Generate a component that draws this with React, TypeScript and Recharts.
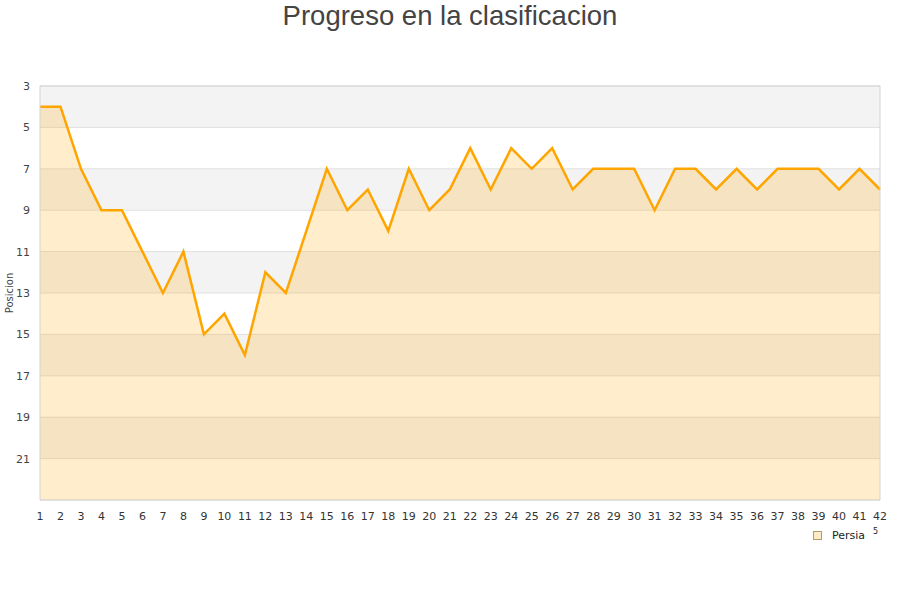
import { AreaChart, Area, XAxis, YAxis, CartesianGrid, ReferenceArea } from "recharts";

// jornadas 1..42
const jornadas = [
  1, 2, 3, 4, 5, 6, 7, 8, 9, 10, 11, 12, 13, 14, 15, 16, 17, 18, 19, 20, 21,
  22, 23, 24, 25, 26, 27, 28, 29, 30, 31, 32, 33, 34, 35, 36, 37, 38, 39, 40, 41, 42,
];

// posicion de Persia en cada jornada
const persia = [
  4, 4, 7, 9, 9, 11, 13, 11, 15, 14, 16, 12, 13, 10, 7, 9, 8, 10, 7, 9, 8,
  6, 8, 6, 7, 6, 8, 7, 7, 7, 9, 7, 7, 8, 7, 8, 7, 7, 7, 8, 7, 8,
];

const yTicks = [3, 5, 7, 9, 11, 13, 15, 17, 19, 21];

const data = jornadas.map((j, i) => ({ jornada: j, pos: persia[i] }));

const font = "'DejaVu Sans', sans-serif";

export default function App() {
  return (
    <div style={{ position: "absolute", left: 0, top: 0, width: 900, height: 600, background: "#fff" }}>
      <div
        style={{
          position: "absolute",
          top: 0,
          width: 900,
          textAlign: "center",
          fontFamily: "'Liberation Sans', Arial, sans-serif",
          fontSize: 27.5,
          color: "#444",
          lineHeight: "32px",
        }}
      >
        Progreso en la clasificacion
      </div>

      <AreaChart width={900} height={600} data={data} margin={{ top: 86, right: 20, bottom: 70, left: 0 }}>
        <CartesianGrid vertical={false} stroke="#e0e0e0" horizontalFill={["#f3f3f3", "#ffffff"]} />
        <XAxis
          dataKey="jornada"
          type="number"
          domain={[1, 42]}
          ticks={jornadas}
          interval={0}
          axisLine={false}
          tickLine={false}
          height={30}
          tick={{ fontSize: 11, fill: "#333", fontFamily: font }}
          tickMargin={6}
        />
        <YAxis
          reversed
          domain={[3, 23]}
          ticks={yTicks}
          interval={0}
          axisLine={false}
          tickLine={false}
          width={40}
          tick={{ fontSize: 11, fill: "#444", fontFamily: font }}
          tickMargin={4}
          label={{
            value: "Posicion",
            angle: -90,
            position: "insideLeft",
            dx: 4,
            style: { fontSize: 10, fill: "#444", fontFamily: font, textAnchor: "middle" },
          }}
        />
        <Area
          type="linear"
          dataKey="pos"
          baseValue="dataMax"
          stroke="#ffa500"
          strokeWidth={2.5}
          fill="#ffa500"
          fillOpacity={0.2}
          dot={false}
          activeDot={false}
          isAnimationActive={false}
        />
        <ReferenceArea x1={1} x2={42} y1={3} y2={23} fill="none" stroke="#d4d4d4" strokeWidth={1} />
      </AreaChart>

      <div
        style={{
          position: "absolute",
          left: 813,
          top: 529,
          display: "flex",
          alignItems: "center",
          fontFamily: font,
          fontSize: 11,
          color: "#222",
        }}
      >
        <span
          style={{
            display: "inline-block",
            width: 7,
            height: 7,
            background: "#fdebc6",
            border: "1px solid #b59a6a",
            marginRight: 10,
          }}
        />
        <span>Persia</span>
        <span style={{ fontSize: 8, marginLeft: 8, position: "relative", top: -4 }}>5</span>
      </div>
    </div>
  );
}
